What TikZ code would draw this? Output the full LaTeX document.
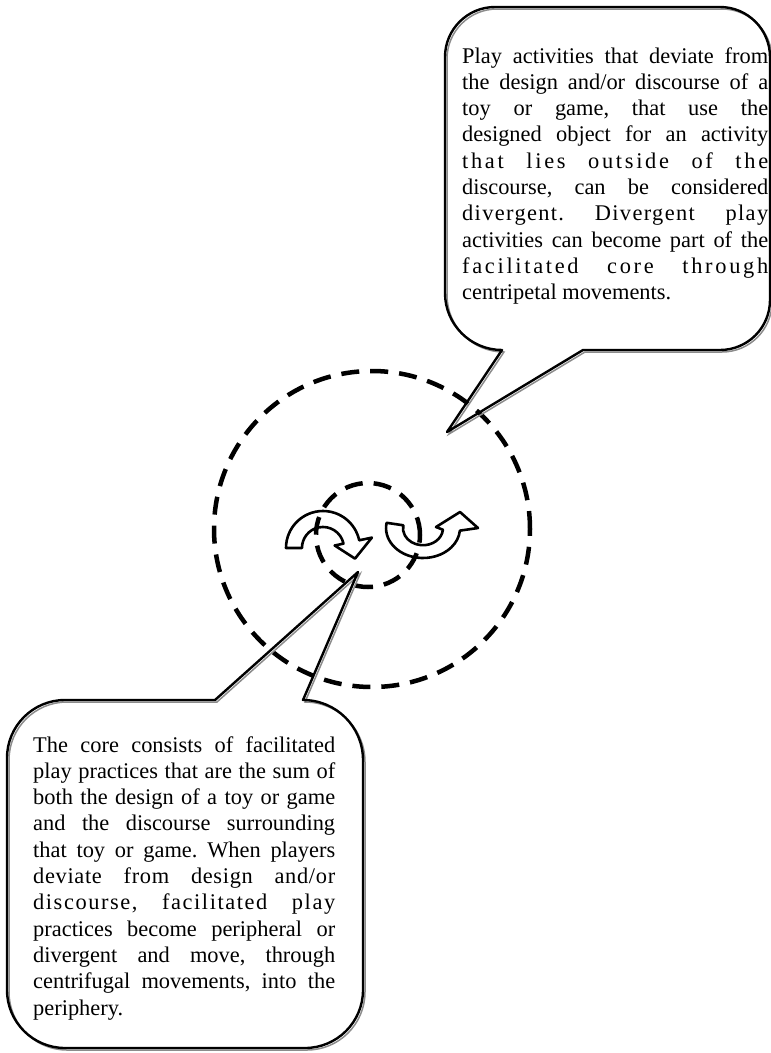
\documentclass[tikz,border=0pt]{standalone}
\usepackage{fontspec}
\setmainfont{Liberation Serif}
\usetikzlibrary{positioning}

\tolerance=10000
\emergencystretch=2em
\hyphenpenalty=10000
\frenchspacing
\newcommand{\spaced}[2]{{\addfontfeature{LetterSpace=#1}#2}}

\begin{document}
\begin{tikzpicture}[x=1pt, y=-1pt,
    ring/.style={draw, circle, line width=4.5pt, dash pattern=on 18pt off 11pt, inner sep=0pt},
    bubble/.style={draw, line width=2.4pt, line join=round,
        preaction={draw=black!45, line width=1.5pt, transform canvas={shift={(2,2)}}}},
    turn/.style={draw, line width=2.6pt, line join=round},
    note/.style={anchor=base west, inner sep=0pt, text width=306pt, align=justify,
        font=\fontsize{22.4}{26.3}\selectfont}
]
    \useasboundingbox (0,0) rectangle (771,1053);

    % periphery and core
    \node[ring, minimum size=316pt] (periphery) at (372,529) {};
    \node[ring, minimum size=104pt] (core) at (368,535) {};

    % movements
    \draw[turn] (286,548) arc[start angle=180, end angle=348, radius=37]
        -- (371.9,537.6) -- (355,558.6) -- (334.7,545.5) -- (343.5,543.6)
        arc[start angle=348, end angle=180, radius=21] -- cycle;
    \draw[turn] (386.6,522.8) arc[start angle=190, end angle=5, x radius=37, y radius=30]
        -- (478,528) -- (460,512) -- (436,527) -- (442.9,529.7)
        arc[start angle=5, end angle=190, x radius=20, y radius=17] -- cycle;

    % callouts
    \draw[bubble] (583,350) -- (720,350) arc[start angle=90, end angle=0, radius=50]
        -- (770,57) arc[start angle=0, end angle=-90, radius=50]
        -- (495,7) arc[start angle=-90, end angle=-180, radius=50]
        -- (445,293) arc[start angle=180, end angle=90, radius=57]
        -- (447,432) -- cycle;
    \draw[bubble] (358,572) -- (303,700) arc[start angle=-90, end angle=0, radius=60]
        -- (363,990) arc[start angle=0, end angle=90, radius=58]
        -- (65,1048) arc[start angle=90, end angle=180, radius=58]
        -- (7,758) arc[start angle=180, end angle=270, radius=58]
        -- (215,700) -- cycle;

    \node[note] (divergent) at (462,63) {%
        Play activities that deviate from\linebreak
        the design and/or discourse of a\linebreak
        toy or game, that use the\linebreak
        designed object for an activity\linebreak
        \spaced{12}{that lies outside of the}\linebreak
        discourse, can be considered\linebreak
        \spaced{6}{divergent. Divergent play}\linebreak
        activities can become part of the\linebreak
        \spaced{12}{facilitated core through}\linebreak
        centripetal movements.};

    \node[note, text width=302pt] (facilitated) at (33,752) {%
        The core consists of facilitated\linebreak
        play practices that are the sum of\linebreak
        both the design of a toy or game\linebreak
        and the discourse surrounding\linebreak
        that toy or game. When players\linebreak
        \spaced{3}{deviate from design and/or}\linebreak
        \spaced{7}{discourse, facilitated play}\linebreak
        practices become peripheral or\linebreak
        divergent and move, through\linebreak
        centrifugal movements, into the\linebreak
        periphery.};
\end{tikzpicture}
\end{document}
